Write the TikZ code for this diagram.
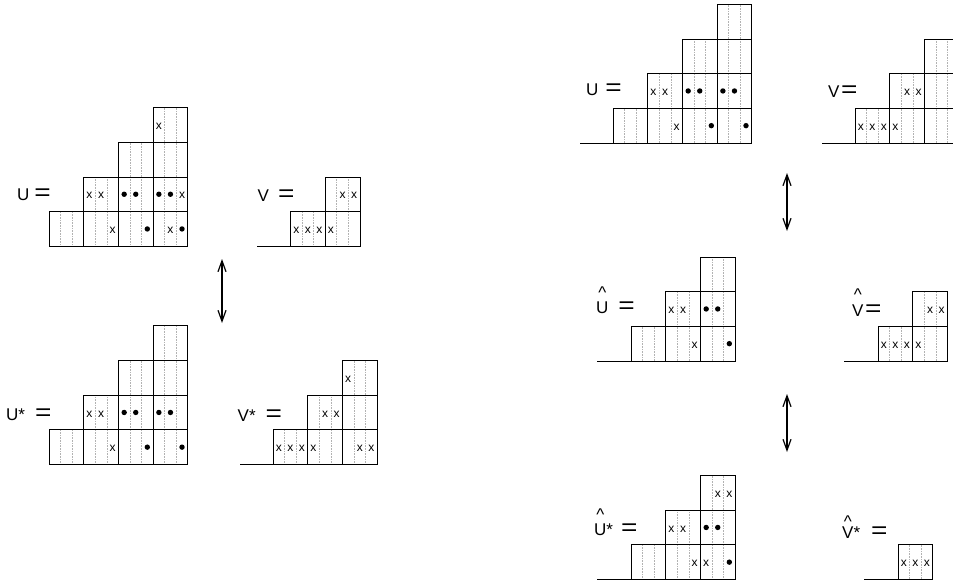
\documentclass[tikz,border=0pt]{standalone}
\usepackage{fontspec}
\setmainfont{Liberation Sans}
\usepackage{graphicx}
\usetikzlibrary{arrows.meta}
\newcommand\cellsz{34.7}
\newcommand\eqs{\scalebox{1.65}[1.4]{=}}
\newcommand\hatover[2]{\leavevmode\setbox0\hbox{#2}\rlap{\hbox to\wd0{\hss\raisebox{#1}{\textasciicircum}\hss}}#2}
\newcommand\setorg[2]{\def\orgx{#1}\def\orgy{#2}}
\newcommand\mX[2]{\node[xmark] at ({#1},{#2+1.5}) {x};}
\newcommand\mD[2]{\fill ({#1},{#2}) circle[radius=2.7];}
\newcommand\mE[2]{}
\newcommand\cc[5]{%
  \pgfmathsetmacro\cellx{\orgx+(#1-1)*\cellsz}%
  \pgfmathsetmacro\celly{\orgy-(#2-1)*\cellsz}%
  \draw[dotline] ({\cellx+\cellsz/3},\celly) -- ++(0,-\cellsz);
  \draw[dotline] ({\cellx+2*\cellsz/3},\celly) -- ++(0,-\cellsz);
  \draw[cellline] (\cellx,\celly) rectangle ++(\cellsz,-\cellsz);
  #3{\cellx+\cellsz/6}{\celly-\cellsz/2}%
  #4{\cellx+\cellsz/2}{\celly-\cellsz/2}%
  #5{\cellx+5*\cellsz/6}{\celly-\cellsz/2}%
}
\tikzset{
  cellline/.style={line width=0.8pt, black},
  dotline/.style={line width=0.6pt, gray!60, dash pattern=on 0.8pt off 0.8pt},
  xmark/.style={inner sep=0pt, font=\fontsize{12}{14}\selectfont},
  lab/.style={inner sep=0pt, anchor=base west, font=\fontsize{17}{20}\selectfont},
  dblarrow/.style={line width=1.2pt, {Straight Barb[length=11pt,width=8pt]}-{Straight Barb[length=11pt,width=8pt]}},
}
\begin{document}
\begin{tikzpicture}[x=1pt,y=-1pt]
\useasboundingbox (0,0) rectangle (953,584);

% ---------- left top: U ----------
\node[lab] (lU) at (17,200) {U\hspace{5pt}\eqs};
\setorg{49}{246.3}
\cc{1}{1}\mE\mE\mE
\cc{2}{1}\mE\mE\mX
\cc{2}{2}\mX\mX\mE
\cc{3}{1}\mE\mE\mD
\cc{3}{2}\mD\mD\mE
\cc{3}{3}\mE\mE\mE
\cc{4}{1}\mE\mX\mD
\cc{4}{2}\mD\mD\mX
\cc{4}{3}\mE\mE\mE
\cc{4}{4}\mX\mE\mE

% ---------- left top: V ----------
\node[lab] (lV) at (257.5,201.5) {V\hspace{9pt}\eqs};
\setorg{290.5}{246.3}
\coordinate (bV1) at (257,246.3);
\coordinate (bV2) at (290.5,246.3);
\draw[cellline] (bV1) -- (bV2);
\cc{1}{1}\mX\mX\mX
\cc{2}{1}\mX\mE\mE
\cc{2}{2}\mE\mX\mX

% ---------- left bottom: U* ----------
\node[lab] (lUs) at (6,420) {U*\hspace{10pt}\eqs};
\setorg{49}{464.5}
\cc{1}{1}\mE\mE\mE
\cc{2}{1}\mE\mE\mX
\cc{2}{2}\mX\mX\mE
\cc{3}{1}\mE\mE\mD
\cc{3}{2}\mD\mD\mE
\cc{3}{3}\mE\mE\mE
\cc{4}{1}\mE\mE\mD
\cc{4}{2}\mD\mD\mE
\cc{4}{3}\mE\mE\mE
\cc{4}{4}\mE\mE\mE

% ---------- left bottom: V* ----------
\node[lab] (lVs) at (237.5,421) {V*\hspace{10pt}\eqs};
\setorg{273}{464.5}
\coordinate (bVs1) at (240,464.5);
\coordinate (bVs2) at (273,464.5);
\draw[cellline] (bVs1) -- (bVs2);
\cc{1}{1}\mX\mX\mX
\cc{2}{1}\mX\mE\mE
\cc{2}{2}\mE\mX\mX
\cc{3}{1}\mE\mX\mX
\cc{3}{2}\mE\mE\mE
\cc{3}{3}\mX\mE\mE

% ---------- left arrow ----------
\coordinate (a1t) at (222,259);
\coordinate (a1b) at (222,323);
\draw[dblarrow] (a1t) -- (a1b);

% ---------- right top: U ----------
\node[lab] (rU) at (586,95) {U\hspace{7pt}\eqs};
\setorg{613}{143}
\coordinate (brU1) at (580,143);
\coordinate (brU2) at (613,143);
\draw[cellline] (brU1) -- (brU2);
\cc{1}{1}\mE\mE\mE
\cc{2}{1}\mE\mE\mX
\cc{2}{2}\mX\mX\mE
\cc{3}{1}\mE\mE\mD
\cc{3}{2}\mD\mD\mE
\cc{3}{3}\mE\mE\mE
\cc{4}{1}\mE\mE\mD
\cc{4}{2}\mD\mD\mE
\cc{4}{3}\mE\mE\mE
\cc{4}{4}\mE\mE\mE

% ---------- right top: V ----------
\node[lab] (rV) at (828,97.5) {V\hspace{1.5pt}\eqs};
\setorg{855}{143}
\coordinate (brV1) at (822,143);
\coordinate (brV2) at (855,143);
\draw[cellline] (brV1) -- (brV2);
\cc{1}{1}\mX\mX\mX
\cc{2}{1}\mX\mE\mE
\cc{2}{2}\mE\mX\mX
\cc{3}{1}\mE\mE\mE
\cc{3}{2}\mE\mE\mE
\cc{3}{3}\mE\mE\mE

% ---------- right arrow 1 ----------
\coordinate (a2t) at (787,173);
\coordinate (a2b) at (787,231);
\draw[dblarrow] (a2t) -- (a2b);

% ---------- right middle: U hat ----------
\node[lab] (hU) at (596,313) {\hatover{14.5pt}{U}\hspace{10pt}\eqs};
\setorg{631}{361}
\coordinate (bhU1) at (597,361);
\coordinate (bhU2) at (631,361);
\draw[cellline] (bhU1) -- (bhU2);
\cc{1}{1}\mE\mE\mE
\cc{2}{1}\mE\mE\mX
\cc{2}{2}\mX\mX\mE
\cc{3}{1}\mE\mE\mD
\cc{3}{2}\mD\mD\mE
\cc{3}{3}\mE\mE\mE

% ---------- right middle: V hat ----------
\node[lab] (hV) at (852,316.5) {\hatover{16pt}{V}\hspace{1.5pt}\eqs};
\setorg{878}{361}
\coordinate (bhV1) at (844,361);
\coordinate (bhV2) at (878,361);
\draw[cellline] (bhV1) -- (bhV2);
\cc{1}{1}\mX\mX\mX
\cc{2}{1}\mX\mE\mE
\cc{2}{2}\mE\mX\mX

% ---------- right arrow 2 ----------
\coordinate (a3t) at (787,394);
\coordinate (a3b) at (787,452);
\draw[dblarrow] (a3t) -- (a3b);

% ---------- right bottom: U hat * ----------
\node[lab] (hUs) at (594,535) {\hatover{14.5pt}{U}*\hspace{8pt}\eqs};
\setorg{631}{579.5}
\coordinate (bhUs1) at (597,579.5);
\coordinate (bhUs2) at (631,579.5);
\draw[cellline] (bhUs1) -- (bhUs2);
\cc{1}{1}\mE\mE\mE
\cc{2}{1}\mE\mE\mX
\cc{2}{2}\mX\mX\mE
\cc{3}{1}\mX\mE\mD
\cc{3}{2}\mD\mD\mE
\cc{3}{3}\mE\mX\mX

% ---------- right bottom: V hat * ----------
\node[lab] (hVs) at (842,538) {\hatover{10.5pt}{V}*\hspace{11pt}\eqs};
\setorg{898}{579}
\coordinate (bhVs1) at (864,579);
\coordinate (bhVs2) at (898,579);
\draw[cellline] (bhVs1) -- (bhVs2);
\cc{1}{1}\mX\mX\mX
\end{tikzpicture}
\end{document}
